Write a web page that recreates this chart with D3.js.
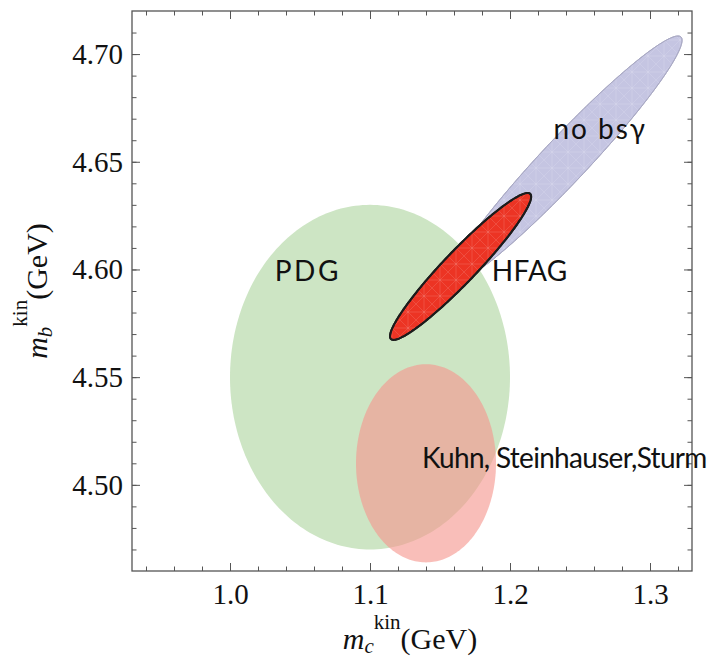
<!DOCTYPE html>
<html>
<head>
<meta charset="utf-8">
<script src="https://cdn.jsdelivr.net/npm/d3@7"></script>
<style>
  html, body { margin: 0; padding: 0; background: #fff; }
  svg { display: block; }
</style>
</head>
<body>
<svg id="chart" width="709" height="661"></svg>
<script>
// ---- data ----
const xDomain = [0.93, 1.33];
const yDomain = [4.46, 4.72];
const xTickLabels = [1.0, 1.1, 1.2, 1.3];
const yTickLabels = [4.50, 4.55, 4.60, 4.65, 4.70];

// regions: name, centre (mc, mb), half-widths (sx, sy), correlation
const regionNames   = ["PDG", "Kuhn, Steinhauser,Sturm", "no bsγ", "HFAG"];
const regionCentreX = [1.100, 1.140, 1.2393, 1.1647];
const regionCentreY = [4.550, 4.510, 4.6508, 4.6014];
const regionSigmaX  = [0.100, 0.050, 0.0836, 0.0504];
const regionSigmaY  = [0.080, 0.046, 0.0576, 0.0341];
const regionRho     = [0.0,   0.0,   0.965,  0.95];

// label anchor points (data coords)
const labelText  = ["PDG", "HFAG", "no bsγ", "Kuhn, Steinhauser,Sturm"];
const labelX     = [1.032, 1.187, 1.231, 1.1371];
const labelY     = [4.5947, 4.5947, 4.6606, 4.5079];

// ---- layout ----
const svg = d3.select("#chart");
const L = 132, R = 692, T = 11, B = 571;
const x = d3.scaleLinear().domain(xDomain).range([L, R]);
const y = d3.scaleLinear().domain(yDomain).range([B, T]);

const styles = [
  { fill: "rgb(205,229,196)", opacity: 1, stroke: "none", sw: 0 },
  { fill: "rgb(245,150,142)", opacity: 0.62, stroke: "none", sw: 0 },
  { fill: "rgb(197,197,226)", opacity: 1, stroke: "#a9a9c4", sw: 1 },
  { fill: "rgb(236,52,36)", opacity: 1, stroke: "#1c1c1c", sw: 2 }
];
const labelSpacing = [2.5, 0.3, 2, -0.7];

const defs = svg.append("defs");
const pat = defs.append("pattern").attr("id", "mesh").attr("patternUnits", "userSpaceOnUse")
  .attr("width", 16).attr("height", 16);
pat.append("path").attr("d", "M0,0L16,16M16,0L0,16M8,0V16M0,8H16")
  .attr("stroke", "#fff").attr("stroke-opacity", 0.18).attr("stroke-width", 0.7).attr("fill", "none");

function ellipsePts(i) {
  const cx = regionCentreX[i], cy = regionCentreY[i], sx = regionSigmaX[i], sy = regionSigmaY[i], r = regionRho[i];
  const n = 240, pts = [];
  for (let k = 0; k < n; k++) {
    const t = 2 * Math.PI * k / n;
    pts.push([cx + sx * Math.cos(t), cy + sy * (r * Math.cos(t) + Math.sqrt(1 - r * r) * Math.sin(t))]);
  }
  return pts;
}
const line = d3.line().x(d => x(d[0])).y(d => y(d[1])).curve(d3.curveLinearClosed);

const g = svg.append("g");
regionNames.forEach((nm, i) => {
  const st = styles[i];
  const pts = ellipsePts(i);
  g.append("path").attr("d", line(pts))
    .attr("fill", st.fill).attr("fill-opacity", st.opacity)
    .attr("stroke", st.stroke).attr("stroke-width", st.sw).attr("stroke-linejoin", "round");
  if (i >= 2) {
    g.append("path").attr("d", line(pts)).attr("fill", "url(#mesh)").attr("stroke", "none");
    g.append("path").attr("d", line(pts)).attr("fill", "none")
      .attr("stroke", st.stroke).attr("stroke-width", st.sw).attr("stroke-linejoin", "round");
  }
});

// ---- frame and ticks ----
const axisColor = "#555";
const serif = "'Liberation Serif', 'Times New Roman', serif";
const xMinor = d3.range(0.94, 1.325, 0.02).map(v => +v.toFixed(2));
const yMinor = d3.range(4.47, 4.715, 0.01).map(v => +v.toFixed(2));

function styleAxis(sel) {
  sel.attr("font-family", serif).attr("font-size", 29);
  sel.select(".domain").remove();
  sel.selectAll(".tick line").attr("stroke", axisColor).attr("stroke-width", 1);
  sel.selectAll(".tick text").attr("fill", "#111")
    .style("font-family", serif).style("font-size", "29px");
}

// bottom
svg.append("g").attr("transform", `translate(0,${B})`)
  .call(d3.axisBottom(x).tickValues(xMinor).tickSize(-4.5).tickFormat("")).call(styleAxis);
svg.append("g").attr("transform", `translate(0,${B})`)
  .call(d3.axisBottom(x).tickValues(xTickLabels).tickSize(-8).tickPadding(12).tickFormat(d3.format(".1f"))).call(styleAxis);
// top
svg.append("g").attr("transform", `translate(0,${T})`)
  .call(d3.axisTop(x).tickValues(xMinor).tickSize(-4.5).tickFormat("")).call(styleAxis);
svg.append("g").attr("transform", `translate(0,${T})`)
  .call(d3.axisTop(x).tickValues(xTickLabels).tickSize(-8).tickFormat("")).call(styleAxis);
// left
svg.append("g").attr("transform", `translate(${L},0)`)
  .call(d3.axisLeft(y).tickValues(yMinor).tickSize(-4.5).tickFormat("")).call(styleAxis);
svg.append("g").attr("transform", `translate(${L},0)`)
  .call(d3.axisLeft(y).tickValues(yTickLabels).tickSize(-8).tickPadding(9).tickFormat(d3.format(".2f"))).call(styleAxis);
// right
svg.append("g").attr("transform", `translate(${R},0)`)
  .call(d3.axisRight(y).tickValues(yMinor).tickSize(-4.5).tickFormat("")).call(styleAxis);
svg.append("g").attr("transform", `translate(${R},0)`)
  .call(d3.axisRight(y).tickValues(yTickLabels).tickSize(-8).tickFormat("")).call(styleAxis);

svg.append("rect").attr("x", L).attr("y", T).attr("width", R - L).attr("height", B - T)
  .attr("fill", "none").attr("stroke", axisColor).attr("stroke-width", 1.3);

// ---- region labels ----
svg.append("g").selectAll("text").data(labelText).join("text")
  .attr("x", (d, i) => x(labelX[i])).attr("y", (d, i) => y(labelY[i]))
  .text(d => d)
  .style("font-family", "Lato, 'Open Sans', sans-serif")
  .style("font-size", "28px")
  .style("letter-spacing", (d, i) => labelSpacing[i] + "px")
  .attr("fill", "#111");

// ---- axis titles ----
const xt = svg.append("text").attr("x", 410).attr("y", 649).attr("text-anchor", "middle")
  .style("font-family", serif).style("font-size", "30px").attr("fill", "#111");
xt.append("tspan").attr("font-style", "italic").text("m");
xt.append("tspan").attr("font-style", "italic").attr("font-size", "21px").attr("dy", 4).text("c");
xt.append("tspan").attr("font-size", "21px").attr("dy", -24).text("kin");
xt.append("tspan").attr("dy", 20).text("(GeV)");

const yt = svg.append("text").attr("transform", "translate(47,291) rotate(-90)").attr("text-anchor", "middle")
  .style("font-family", serif).style("font-size", "30px").attr("fill", "#111");
yt.append("tspan").attr("font-style", "italic").text("m");
yt.append("tspan").attr("font-style", "italic").attr("font-size", "21px").attr("dy", 5).text("b");
yt.append("tspan").attr("font-size", "21px").attr("dy", -25).text("kin");
yt.append("tspan").attr("dy", 20).text("(GeV)");
</script>
</body>
</html>
